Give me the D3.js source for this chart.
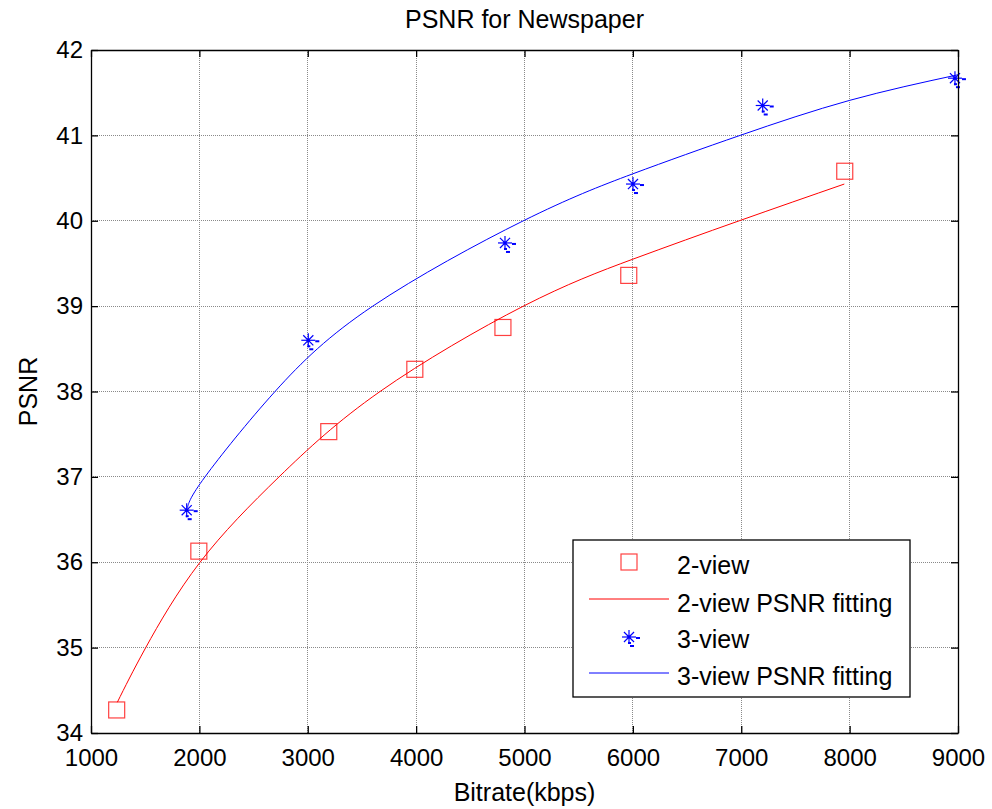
<!DOCTYPE html>
<html>
<head>
<meta charset="utf-8">
<script src="https://cdn.jsdelivr.net/npm/d3@7"></script>
<style>
  body { margin: 0; background: #fff; }
  text { font-family: "Liberation Sans", Arial, sans-serif; fill: #000; }
</style>
</head>
<body>
<div id="chart"></div>
<script>
// measured points
const bitrate2 = [1237, 1995, 3194, 3988, 4801, 5962, 7955];
const psnr2 = [34.27, 36.13, 37.53, 38.26, 38.75, 39.36, 40.58];
const bitrate3 = [1883, 3005, 4820, 6001, 7198, 8972];
const psnr3 = [36.61, 38.60, 39.74, 40.43, 41.35, 41.67];

// fitted curves (grid crossings)
const fitX2 = [1243, 1505, 2006, 2735, 3667, 4990, 6000, 6982, 7951];
const fitY2 = [34.36, 35.0, 36.0, 37.0, 38.0, 39.0, 39.55, 40.0, 40.43];
const fitX3 = [1890, 2052, 2698, 3600, 4990, 6000, 6990, 8000, 9000];
const fitY3 = [36.64, 37.0, 38.0, 39.0, 40.0, 40.55, 41.0, 41.41, 41.71];

const xTicks = [1000, 2000, 3000, 4000, 5000, 6000, 7000, 8000, 9000];
const yTicks = [34, 35, 36, 37, 38, 39, 40, 41, 42];
const legendLabels = ['2-view', '2-view PSNR fitting', '3-view', '3-view PSNR fitting'];

const width = 992;
const height = 809;
const plotL = 91, plotR = 958, plotT = 50, plotB = 733;
const red = '#ff0000';
const blue = '#0000ff';

const svg = d3.select('#chart').append('svg')
  .attr('width', width)
  .attr('height', height);

svg.append('rect').attr('width', width).attr('height', height).attr('fill', '#fff');

const x = d3.scaleLinear().domain([1000, 9000]).range([plotL, plotR]);
const y = d3.scaleLinear().domain([34, 42]).range([plotB, plotT]);

// grid
const grid = svg.append('g').attr('class', 'grid');
grid.selectAll('.vgrid')
  .data(xTicks.slice(1, -1))
  .enter().append('line')
  .attr('x1', d => x(d)).attr('x2', d => x(d))
  .attr('y1', plotT).attr('y2', plotB);
grid.selectAll('.hgrid')
  .data(yTicks.slice(1, -1))
  .enter().append('line')
  .attr('x1', plotL).attr('x2', plotR)
  .attr('y1', d => y(d)).attr('y2', d => y(d));
grid.selectAll('line')
  .attr('stroke', '#8a8a8a')
  .attr('stroke-width', 1)
  .attr('stroke-dasharray', '1,1')
  .attr('shape-rendering', 'crispEdges');

// clip for fitted lines
svg.append('clipPath').attr('id', 'plotClip')
  .append('rect').attr('x', plotL).attr('y', plotT)
  .attr('width', plotR - plotL).attr('height', plotB - plotT);

const line = d3.line()
  .x(d => x(d[0]))
  .y(d => y(d[1]))
  .curve(d3.curveNatural);

const fit2 = fitX2.map((v, i) => [v, fitY2[i]]);
const fit3 = fitX3.map((v, i) => [v, fitY3[i]]);

svg.append('path')
  .attr('d', line(fit2))
  .attr('fill', 'none')
  .attr('stroke', red)
  .attr('stroke-width', 1)
  .attr('clip-path', 'url(#plotClip)');

svg.append('path')
  .attr('d', line(fit3))
  .attr('fill', 'none')
  .attr('stroke', blue)
  .attr('stroke-width', 1)
  .attr('clip-path', 'url(#plotClip)');

// markers
function drawSquare(g, cx, cy) {
  g.append('rect')
    .attr('x', cx - 8).attr('y', cy - 8)
    .attr('width', 16).attr('height', 16)
    .attr('fill', 'none')
    .attr('stroke', red)
    .attr('stroke-opacity', 0.75)
    .attr('stroke-width', 1.2);
}

function drawStar(g, cx, cy) {
  const r = 7;
  const d = r * 0.72;
  const s = g.append('g').attr('transform', `translate(${cx},${cy})`)
    .attr('stroke', blue).attr('stroke-width', 1.2);
  s.append('line').attr('x1', -r).attr('x2', r).attr('y1', 0).attr('y2', 0);
  s.append('line').attr('x1', 0).attr('x2', 0).attr('y1', -r).attr('y2', r);
  s.append('line').attr('x1', -d).attr('x2', d).attr('y1', -d).attr('y2', d);
  s.append('line').attr('x1', -d).attr('x2', d).attr('y1', d).attr('y2', -d);
  // small dashes that come with the marker in the original rendering
  s.append('rect').attr('x', 7).attr('y', 0).attr('width', 4).attr('height', 2).attr('fill', blue).attr('stroke', 'none');
  s.append('rect').attr('x', -1).attr('y', 5).attr('width', 3).attr('height', 2).attr('fill', blue).attr('stroke', 'none');
  s.append('rect').attr('x', 1).attr('y', 8).attr('width', 4).attr('height', 2).attr('fill', blue).attr('stroke', 'none');
  s.append('circle').attr('r', 1.8).attr('fill', blue).attr('stroke', 'none');
}

const marks = svg.append('g').attr('class', 'marks');
bitrate2.forEach((b, i) => drawSquare(marks, x(b), y(psnr2[i])));
bitrate3.forEach((b, i) => drawStar(marks, x(b), y(psnr3[i])));

// axes with inward ticks on all four sides
const tick = 7;
const fmt = d3.format('d');
const axisBottom = d3.axisBottom(x).tickValues(xTicks).tickFormat(fmt).tickSizeInner(-tick).tickSizeOuter(0).tickPadding(16);
const axisTop = d3.axisTop(x).tickValues(xTicks).tickSizeInner(-tick).tickSizeOuter(0).tickFormat('');
const axisLeft = d3.axisLeft(y).tickValues(yTicks).tickFormat(fmt).tickSizeInner(-tick).tickSizeOuter(0).tickPadding(8);
const axisRight = d3.axisRight(y).tickValues(yTicks).tickSizeInner(-tick).tickSizeOuter(0).tickFormat('');

const gB = svg.append('g').attr('transform', `translate(0,${plotB})`).call(axisBottom);
const gT = svg.append('g').attr('transform', `translate(0,${plotT})`).call(axisTop);
const gL = svg.append('g').attr('transform', `translate(${plotL},0)`).call(axisLeft);
const gR = svg.append('g').attr('transform', `translate(${plotR},0)`).call(axisRight);

[gB, gT, gL, gR].forEach(g => {
  g.select('.domain').attr('stroke', '#000').attr('stroke-width', 1.3);
  g.selectAll('.tick line').attr('stroke', '#000').attr('stroke-width', 1.3);
  g.selectAll('.tick text').attr('font-size', 24).attr('fill', '#000')
    .attr('font-family', '"Liberation Sans", Arial, sans-serif');
});

// titles
svg.append('text')
  .attr('x', (plotL + plotR) / 2).attr('y', 28)
  .attr('text-anchor', 'middle')
  .attr('font-size', 25)
  .text('PSNR for Newspaper');

svg.append('text')
  .attr('x', (plotL + plotR) / 2).attr('y', 801)
  .attr('text-anchor', 'middle')
  .attr('font-size', 25)
  .text('Bitrate(kbps)');

svg.append('text')
  .attr('transform', `translate(37,${(plotT + plotB) / 2}) rotate(-90)`)
  .attr('text-anchor', 'middle')
  .attr('font-size', 25)
  .text('PSNR');

// legend
const lg = svg.append('g').attr('transform', 'translate(573,540)');
lg.append('rect')
  .attr('width', 337).attr('height', 157)
  .attr('fill', '#fff')
  .attr('stroke', '#000')
  .attr('stroke-width', 1.3);

const rowY = [22, 59, 97, 133];
legendLabels.forEach((label, i) => {
  const ry = rowY[i];
  if (i === 0) drawSquare(lg, 56, ry);
  if (i === 2) drawStar(lg, 56, ry);
  if (i === 1 || i === 3) {
    lg.append('line')
      .attr('x1', 16).attr('x2', 96)
      .attr('y1', ry).attr('y2', ry)
      .attr('stroke', i === 1 ? red : blue)
      .attr('stroke-width', 1);
  }
  lg.append('text')
    .attr('x', 104).attr('y', [34, 72, 108, 145][i])
    .attr('font-size', 25)
    .text(label);
});
</script>
</body>
</html>
